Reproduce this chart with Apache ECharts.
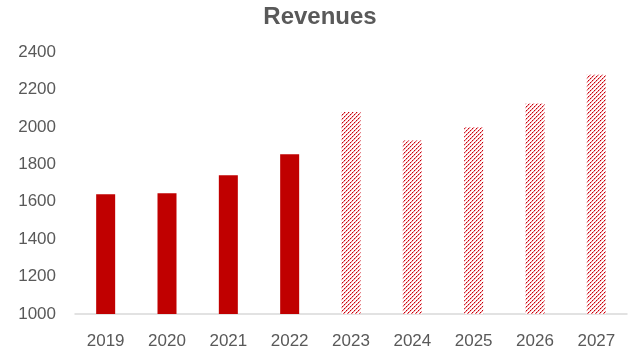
<!DOCTYPE html>
<html>
<head>
<meta charset="utf-8">
<script src="https://cdn.jsdelivr.net/npm/echarts@6/dist/echarts.min.js"></script>
<style>html,body{margin:0;padding:0;background:#fff}#c{width:640px;height:358px}</style>
</head>
<body>
<div id="c"></div>
<script>
var categories = ['2019','2020','2021','2022','2023','2024','2025','2026','2027'];
var actualValues = [1640, 1645, 1742, 1854, null, null, null, null, null];
var forecastValues = [null, null, null, null, 2080, 1927, 1998, 2125, 2278];
var yTicks = [1000, 1200, 1400, 1600, 1800, 2000, 2200, 2400];

function makeHatch() {
  var n = 8, p = 4;
  var cv = document.createElement('canvas');
  cv.width = n; cv.height = n;
  var ctx = cv.getContext('2d');
  ctx.fillStyle = '#ffffff';
  ctx.fillRect(0, 0, n, n);
  for (var y = 0; y < n; y++) {
    for (var x = 0; x < n; x++) {
      var d = ((x + y) % p + p) % p;
      if (d === 0) {
        ctx.fillStyle = (y % 2 === 0) ? '#c8000a' : '#e4646c';
        ctx.fillRect(x, y, 1, 1);
      } else if (d === 1) {
        ctx.fillStyle = '#f4b8bc';
        ctx.fillRect(x, y, 1, 1);
      }
    }
  }
  return cv;
}

var chart = echarts.init(document.getElementById('c'), null, {renderer: 'canvas'});
chart.setOption({
  animation: false,
  backgroundColor: '#ffffff',
  title: {
    text: 'Revenues',
    left: 'center',
    top: 0,
    textStyle: {fontFamily: 'Liberation Sans', fontWeight: 'bold', fontSize: 24, color: '#595959'}
  },
  grid: {left: 75, right: 13, top: 52, bottom: 44, containLabel: false},
  xAxis: {
    type: 'category',
    data: categories,
    axisLine: {lineStyle: {color: '#d9d9d9', width: 1.5}},
    axisTick: {show: false},
    axisLabel: {color: '#595959', fontSize: 17, fontFamily: 'Liberation Sans', margin: 19}
  },
  yAxis: {
    type: 'value',
    min: yTicks[0],
    max: yTicks[yTicks.length - 1],
    interval: 200,
    splitLine: {show: false},
    axisLine: {show: false},
    axisTick: {show: false},
    axisLabel: {color: '#595959', fontSize: 17, fontFamily: 'Liberation Sans', margin: 19,
      formatter: function (v) { return String(v); }}
  },
  series: [
    {
      type: 'bar',
      data: actualValues,
      barWidth: 19,
      barGap: '-100%',
      itemStyle: {color: '#c00000'}
    },
    {
      type: 'bar',
      data: forecastValues,
      barWidth: 19,
      barGap: '-100%',
      itemStyle: {color: {image: makeHatch(), repetition: 'repeat'}}
    }
  ]
});
</script>
</body>
</html>
